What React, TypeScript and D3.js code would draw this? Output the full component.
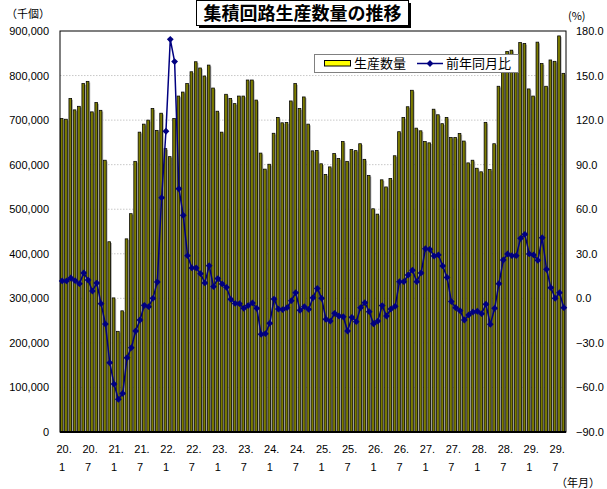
import React from 'react';
import * as d3 from 'd3';

// 生産数量（千個） 平成20年1月〜平成29年9月
const production = [
  703500, 702000, 748500, 723000, 731000, 782000, 787000, 718500, 739500, 722000,
  610000, 427000, 301000, 226000, 272000, 433500, 490000, 607500, 673000, 691000,
  700000, 726000, 677000, 715500, 636000, 618000, 703500, 754000, 763000, 782000,
  808500, 831000, 817000, 799000, 823500, 772000, 720000, 673000, 758000, 748500,
  737000, 754000, 754000, 790000, 790000, 745000, 626000, 590000, 601000, 670500,
  706000, 694000, 694500, 743000, 782000, 726000, 752000, 691000, 631000, 632000,
  602000, 578000, 595000, 625000, 614000, 652000, 607500, 634000, 631500, 647000,
  612000, 576000, 501000, 489000, 566000, 550000, 569000, 620000, 674000, 706000,
  730000, 767000, 682000, 676000, 652000, 649000, 724500, 712000, 692000, 706000,
  661000, 661000, 670000, 653000, 604000, 610000, 592000, 584000, 695000, 589000,
  647000, 776000, 830000, 854000, 857000, 847000, 874000, 872000, 770000, 754000,
  875000, 827000, 776000, 835000, 832000, 889000, 805000,
];

// 前年同月比（%）
const yoy = [
  11.7, 11.7, 13.7, 11.9, 9.9, 17.1, 12.3, 4.9, 10.3, -3.6,
  -17.3, -43.3, -57.7, -68, -64, -40, -33.2, -22, -14.6, -4.7,
  -5.6, 0, 11, 67.8, 112.5, 174.4, 159.4, 73.8, 55.9, 28.7,
  20.5, 20.5, 16.6, 10.4, 22, 7.9, 13.3, 9.7, 7.4, -0.7,
  -3.4, -3.6, -6.7, -4.9, -3.1, -6.7, -24.2, -23.8, -16.8, -0.5,
  -7.2, -7.6, -6.3, -1.6, 3.8, -8.1, -5.6, -7.4, 0.4, 6.7,
  0, -14.1, -15.3, -10.1, -11.9, -12.4, -22, -12.8, -15.7, -6.3,
  -2.9, -9, -17.1, -15.3, -4.9, -11.9, -7.2, -5.4, 11.2, 11.2,
  15.7, 18.9, 11.2, 17.1, 33.4, 33, 28.5, 29.2, 21.8, 14.1,
  -2.2, -6.3, -8.3, -14.6, -11.2, -9.2, -8.7, -10.3, -4, -17.5,
  -6.7, 9.9, 25.8, 29.9, 28.7, 28.7, 40.4, 43.1, 29.9, 29.2,
  25.6, 40.8, 19.5, 7.2, 0, 3.8, -6.3,
];

const startYear = 20; // 平成20年
const leftTicks = [0, 100000, 200000, 300000, 400000, 500000, 600000, 700000, 800000, 900000];
const rightTicks = [-90, -60, -30, 0, 30, 60, 90, 120, 150, 180];

const title = '集積回路生産数量の推移';
const leftUnit = '（千個）';
const rightUnit = '(%)';
const xUnit = '（年月）';
const legendBar = '生産数量';
const legendLine = '前年同月比';

const W = 607, H = 489;
const PL = 60, PR = 566, PT = 31, PB = 432;
const NUM = "'Liberation Sans', Arial, sans-serif";
const JP = "'Noto Sans CJK JP', sans-serif";

export default function App() {
  const idx = production.map((_, i) => i);
  const x = d3.scaleBand<number>().domain(idx).range([PL, PR]).padding(0);
  const bw = x.bandwidth();
  const barW = bw * 0.62;
  const yL = d3.scaleLinear().domain([0, 900000]).range([PB, PT]);
  const yR = d3.scaleLinear().domain([-90, 180]).range([PB, PT]);
  const fmt = d3.format(',');
  const line = d3
    .line<number>()
    .x((_, i) => (x(i) as number) + bw / 2)
    .y((d) => yR(d));

  const labelIdx = idx.filter((i) => i % 6 === 0);
  const diamond = 'M0,-3.4L3.4,0L0,3.4L-3.4,0Z';

  return (
    <svg width={W} height={H} style={{ position: 'absolute', left: 0, top: 0, background: '#fff' }}>
      <rect x={0} y={0} width={W} height={H} fill="#fff" />
      {/* gridlines */}
      {leftTicks.slice(1, -1).map((t) => (
        <line key={t} x1={PL} x2={PR} y1={yL(t)} y2={yL(t)} stroke="#c8c8c8" strokeWidth={1} strokeDasharray="1.5,1.5" />
      ))}
      {/* bars: shadow then bar */}
      {production.map((v, i) => (
        <rect key={'s' + i} x={(x(i) as number) + 1.6} y={yL(v) + 1.2} width={barW} height={PB - yL(v) - 1.2} fill="#b0b0b0" />
      ))}
      {production.map((v, i) => (
        <rect key={'b' + i} x={(x(i) as number) + 0.3} y={yL(v)} width={barW} height={PB - yL(v)} fill="#7c7c00" stroke="#000" strokeWidth={0.75} />
      ))}
      {/* frame */}
      <rect x={PL} y={PT} width={PR - PL} height={PB - PT} fill="none" stroke="#000" strokeWidth={1} />
      <line x1={PL} x2={PR} y1={PB} y2={PB} stroke="#000" strokeWidth={2} />
      {/* line */}
      <path d={line(yoy) || ''} fill="none" stroke="#000080" strokeWidth={1.5} />
      {yoy.map((v, i) => (
        <path key={'m' + i} d={diamond} transform={`translate(${(x(i) as number) + bw / 2},${yR(v)})`} fill="#000080" />
      ))}
      {/* left axis */}
      {leftTicks.map((t) => (
        <text key={'l' + t} x={49} y={yL(t) + 4} textAnchor="end" fontFamily={NUM} fontSize={11} fill="#000">
          {fmt(t)}
        </text>
      ))}
      {/* right axis */}
      {rightTicks.map((t) => (
        <text key={'r' + t} x={576} y={yR(t) + 4} textAnchor="start" fontFamily={NUM} fontSize={11} fill="#000">
          {t.toFixed(1).replace('-', '−')}
        </text>
      ))}
      {/* x labels */}
      {labelIdx.map((i) => {
        const cx = (x(i) as number) + bw / 2;
        const yr = startYear + Math.floor(i / 12);
        const mo = (i % 12) + 1;
        return (
          <g key={'x' + i}>
            <text x={cx + 2} y={453} textAnchor="middle" fontFamily={NUM} fontSize={11}>{`${yr}.`}</text>
            <text x={cx} y={471} textAnchor="middle" fontFamily={NUM} fontSize={11}>{`${mo}`}</text>
          </g>
        );
      })}
      <text x={556} y={487} fontFamily={JP} fontSize={11}>{xUnit}</text>
      <text x={6} y={18} fontFamily={JP} fontSize={11}>{leftUnit}</text>
      <text x={568} y={20} fontFamily={JP} fontSize={11}>{rightUnit}</text>
      {/* title */}
      <rect x={199} y={3} width={212} height={25} fill="#000" />
      <rect x={196.5} y={0.5} width={212} height={25} fill="#fff" stroke="#000" strokeWidth={1} />
      <text x={302.5} y={19.5} textAnchor="middle" fontFamily={JP} fontWeight="bold" fontSize={18}>{title}</text>
      {/* legend */}
      <rect x={314.5} y={54.5} width={204} height={18} fill="#fff" stroke="#808080" strokeWidth={1} />
      <rect x={324.5} y={60.5} width={26} height={5.5} fill="#ffff00" stroke="#000" strokeWidth={1} />
      <text x={354} y={68} fontFamily={JP} fontSize={13}>{legendBar}</text>
      <line x1={417} x2={443} y1={63.5} y2={63.5} stroke="#000080" strokeWidth={1.5} />
      <path d={diamond} transform="translate(430,63.5)" fill="#000080" />
      <text x={446} y={68} fontFamily={JP} fontSize={13}>{legendLine}</text>
    </svg>
  );
}
